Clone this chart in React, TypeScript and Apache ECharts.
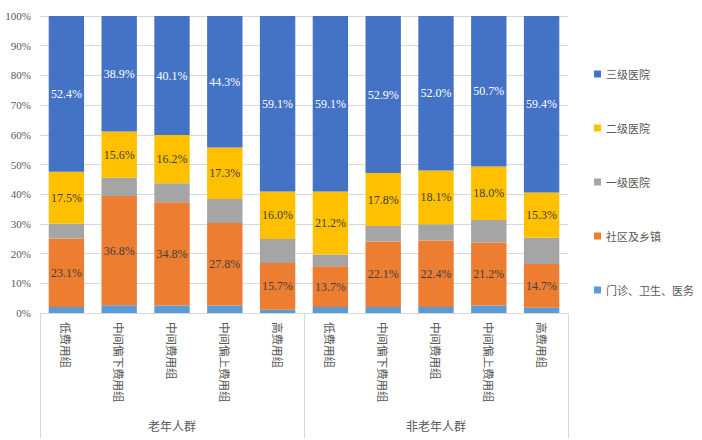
import React, { useEffect, useRef } from "react";
import * as echarts from "echarts";

const categories = [
  "低费用组", "中间偏下费用组", "中间费用组", "中间偏上费用组", "高费用组",
  "低费用组", "中间偏下费用组", "中间费用组", "中间偏上费用组", "高费用组",
];
const groups = ["老年人群", "非老年人群"];
const menzhen = [2.0, 2.6, 2.5, 2.5, 1.1, 2.0, 2.0, 2.0, 2.5, 1.8];
const shequ = [23.1, 36.8, 34.8, 27.8, 15.7, 13.7, 22.1, 22.4, 21.2, 14.7];
const yiji = [5.0, 6.1, 6.4, 8.1, 8.1, 4.0, 5.2, 5.5, 7.6, 8.8];
const erji = [17.5, 15.6, 16.2, 17.3, 16.0, 21.2, 17.8, 18.1, 18.0, 15.3];
const sanji = [52.4, 38.9, 40.1, 44.3, 59.1, 59.1, 52.9, 52.0, 50.7, 59.4];
const seriesNames = ["门诊、卫生、医务", "社区及乡镇", "一级医院", "二级医院", "三级医院"];
const legendOrder = ["三级医院", "二级医院", "一级医院", "社区及乡镇", "门诊、卫生、医务"];

export default function App() {
  const ref = useRef<HTMLDivElement>(null);
  useEffect(() => {
    if (!ref.current) return;
    const chart = echarts.init(ref.current, null, { renderer: "svg" });
    const labelCfg = (show: boolean, color: string) => ({
      show,
      position: "inside",
      color,
      fontFamily: "Liberation Serif",
      fontSize: 12,
      formatter: (p: any) => Number(p.value).toFixed(1) + "%",
    });
    const mk = (name: string, data: number[], color: string, show: boolean, lc: string) => ({
      name,
      type: "bar",
      stack: "total",
      data,
      barCategoryGap: "33%",
      itemStyle: { color },
      label: labelCfg(show, lc),
    });
    chart.setOption({
      animation: false,
      grid: { left: 40, right: 134, top: 16, bottom: 127, containLabel: false },
      legend: {
        data: legendOrder,
        orient: "vertical",
        left: 589,
        top: 62,
        icon: "rect",
        itemWidth: 7,
        itemHeight: 7,
        itemGap: 40,
        textStyle: { fontSize: 11, color: "#595959", lineHeight: 14, fontFamily: "Noto Sans CJK SC" },
      },
      xAxis: [
        {
          type: "category",
          data: categories,
          axisLine: { lineStyle: { color: "#d9d9d9" } },
          axisTick: { show: false },
          axisLabel: {
            interval: 0,
            rotate: -90,
            margin: 9,
            color: "#595959",
            fontSize: 11.5,
            fontFamily: "Noto Sans CJK SC",
          },
        },
        {
          type: "category",
          data: groups,
          position: "bottom",
          axisLine: { show: false },
          axisTick: { show: true, length: 125, interval: 0, lineStyle: { color: "#d9d9d9" } },
          axisLabel: {
            margin: 106,
            color: "#595959",
            fontSize: 12,
            fontFamily: "Noto Sans CJK SC",
          },
          splitLine: { show: false },
        },
      ],
      yAxis: {
        type: "value",
        min: 0,
        max: 100,
        interval: 10,
        axisLine: { show: false },
        axisTick: { show: false },
        splitLine: { lineStyle: { color: "#d9d9d9" } },
        axisLabel: {
          formatter: "{value}%",
          color: "#595959",
          fontSize: 11,
          margin: 9,
          fontFamily: "Liberation Serif",
        },
      },
      series: [
        mk(seriesNames[0], menzhen, "#5B9BD5", false, "#404040"),
        mk(seriesNames[1], shequ, "#ED7D31", true, "#404040"),
        mk(seriesNames[2], yiji, "#A5A5A5", false, "#404040"),
        mk(seriesNames[3], erji, "#FFC000", true, "#404040"),
        mk(seriesNames[4], sanji, "#4472C4", true, "#ffffff"),
      ],
    });
    return () => chart.dispose();
  }, []);
  return <div ref={ref} style={{ width: 702, height: 440, position: "absolute", left: 0, top: 0 }} />;
}
